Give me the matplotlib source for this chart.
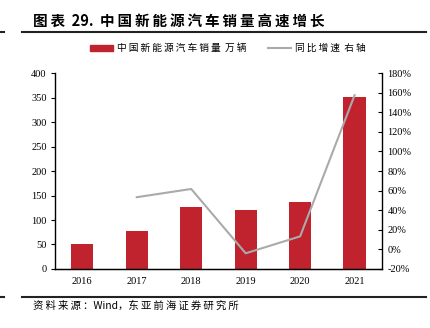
import matplotlib
matplotlib.use('Agg')
import matplotlib.pyplot as plt
from matplotlib.lines import Line2D
from matplotlib.patches import Patch

years = ['2016', '2017', '2018', '2019', '2020', '2021']
sales = [50.7, 77.7, 125.6, 120.6, 136.7, 352.1]   # 万辆
growth_years = ['2017', '2018', '2019', '2020', '2021']
growth = [53.3, 61.7, -4.0, 13.3, 157.5]            # %

cjk = ['Noto Sans CJK SC', 'DejaVu Sans']
serif = ['Liberation Serif', 'Noto Sans CJK SC']
bar_color = '#C0222E'
line_color = '#AAAAAA'


def spaced(s):
    # the original uses a wide Song face, so open the letters up a bit
    return '\u2009'.join(s)


fig = plt.figure(figsize=(4.3, 3.28), dpi=100)
ax = fig.add_axes([0.128, 0.180, 0.760, 0.597])
x = list(range(len(years)))
ax.bar(x, sales, width=0.41, color=bar_color, zorder=2)
ax.set_xlim(-0.5, len(years) - 0.5)
ax.set_ylim(0, 400)
ax.set_yticks(range(0, 401, 50))
ax.set_xticks(x)
ax.set_xticklabels(years)
ax.spines['top'].set_visible(False)
ax.spines['right'].set_visible(False)
ax.tick_params(axis='both', labelsize=7.5, length=3, width=0.8, pad=3)
ax.tick_params(axis='x', length=0, pad=6)
for lab in ax.get_xticklabels() + ax.get_yticklabels():
    lab.set_family(serif)

ax2 = ax.twinx()
gx = [years.index(y) for y in growth_years]
ax2.plot(gx, growth, color=line_color, lw=1.5, zorder=3)
ax2.set_ylim(-20, 180)
ax2.set_yticks(range(-20, 181, 20))
ax2.set_yticklabels([f'{v}%' for v in range(-20, 181, 20)])
ax2.spines['top'].set_visible(False)
ax2.spines['left'].set_visible(False)
ax2.tick_params(axis='y', labelsize=7.5, length=3, width=0.8, direction='in', pad=4)
for lab in ax2.get_yticklabels():
    lab.set_family(serif)
for s in ['left', 'bottom']:
    ax.spines[s].set_linewidth(1.0)
ax2.spines['right'].set_linewidth(1.0)

# title and rules
fig.text(0.077, 0.938, spaced('图表') + '  29.  ' + spaced('中国新能源汽车销量高速增长'), family=cjk,
         fontsize=10.5, fontweight='bold', va='center', ha='left')
fig.add_artist(Line2D([0.052, 0.99], [0.903, 0.903], color='#222222', lw=1.5))
fig.add_artist(Line2D([0.0, 0.01], [0.903, 0.903], color='#222222', lw=1.5))
fig.add_artist(Line2D([0.052, 0.99], [0.094, 0.094], color='#222222', lw=1.5))
fig.add_artist(Line2D([0.0, 0.01], [0.094, 0.094], color='#222222', lw=1.5))
fig.text(0.077, 0.068, spaced('资料来源：') + 'Wind，' + spaced('东亚前海证券研究所'),
         family=cjk, fontsize=7.5, va='center', ha='left')

handles = [Patch(color=bar_color), Line2D([0], [0], color=line_color, lw=1.5)]
labels = [spaced('中国新能源汽车销量') + '  ' + spaced('万辆'),
          spaced('同比增速') + '  ' + spaced('右轴')]
leg = fig.legend(handles, labels, loc='center', bbox_to_anchor=(0.53, 0.853), ncol=2,
                 frameon=False, prop={'family': cjk, 'size': 7}, handlelength=2.4,
                 handleheight=0.6, columnspacing=2.2, handletextpad=0.4)

fig.savefig('out.png', dpi=100)
